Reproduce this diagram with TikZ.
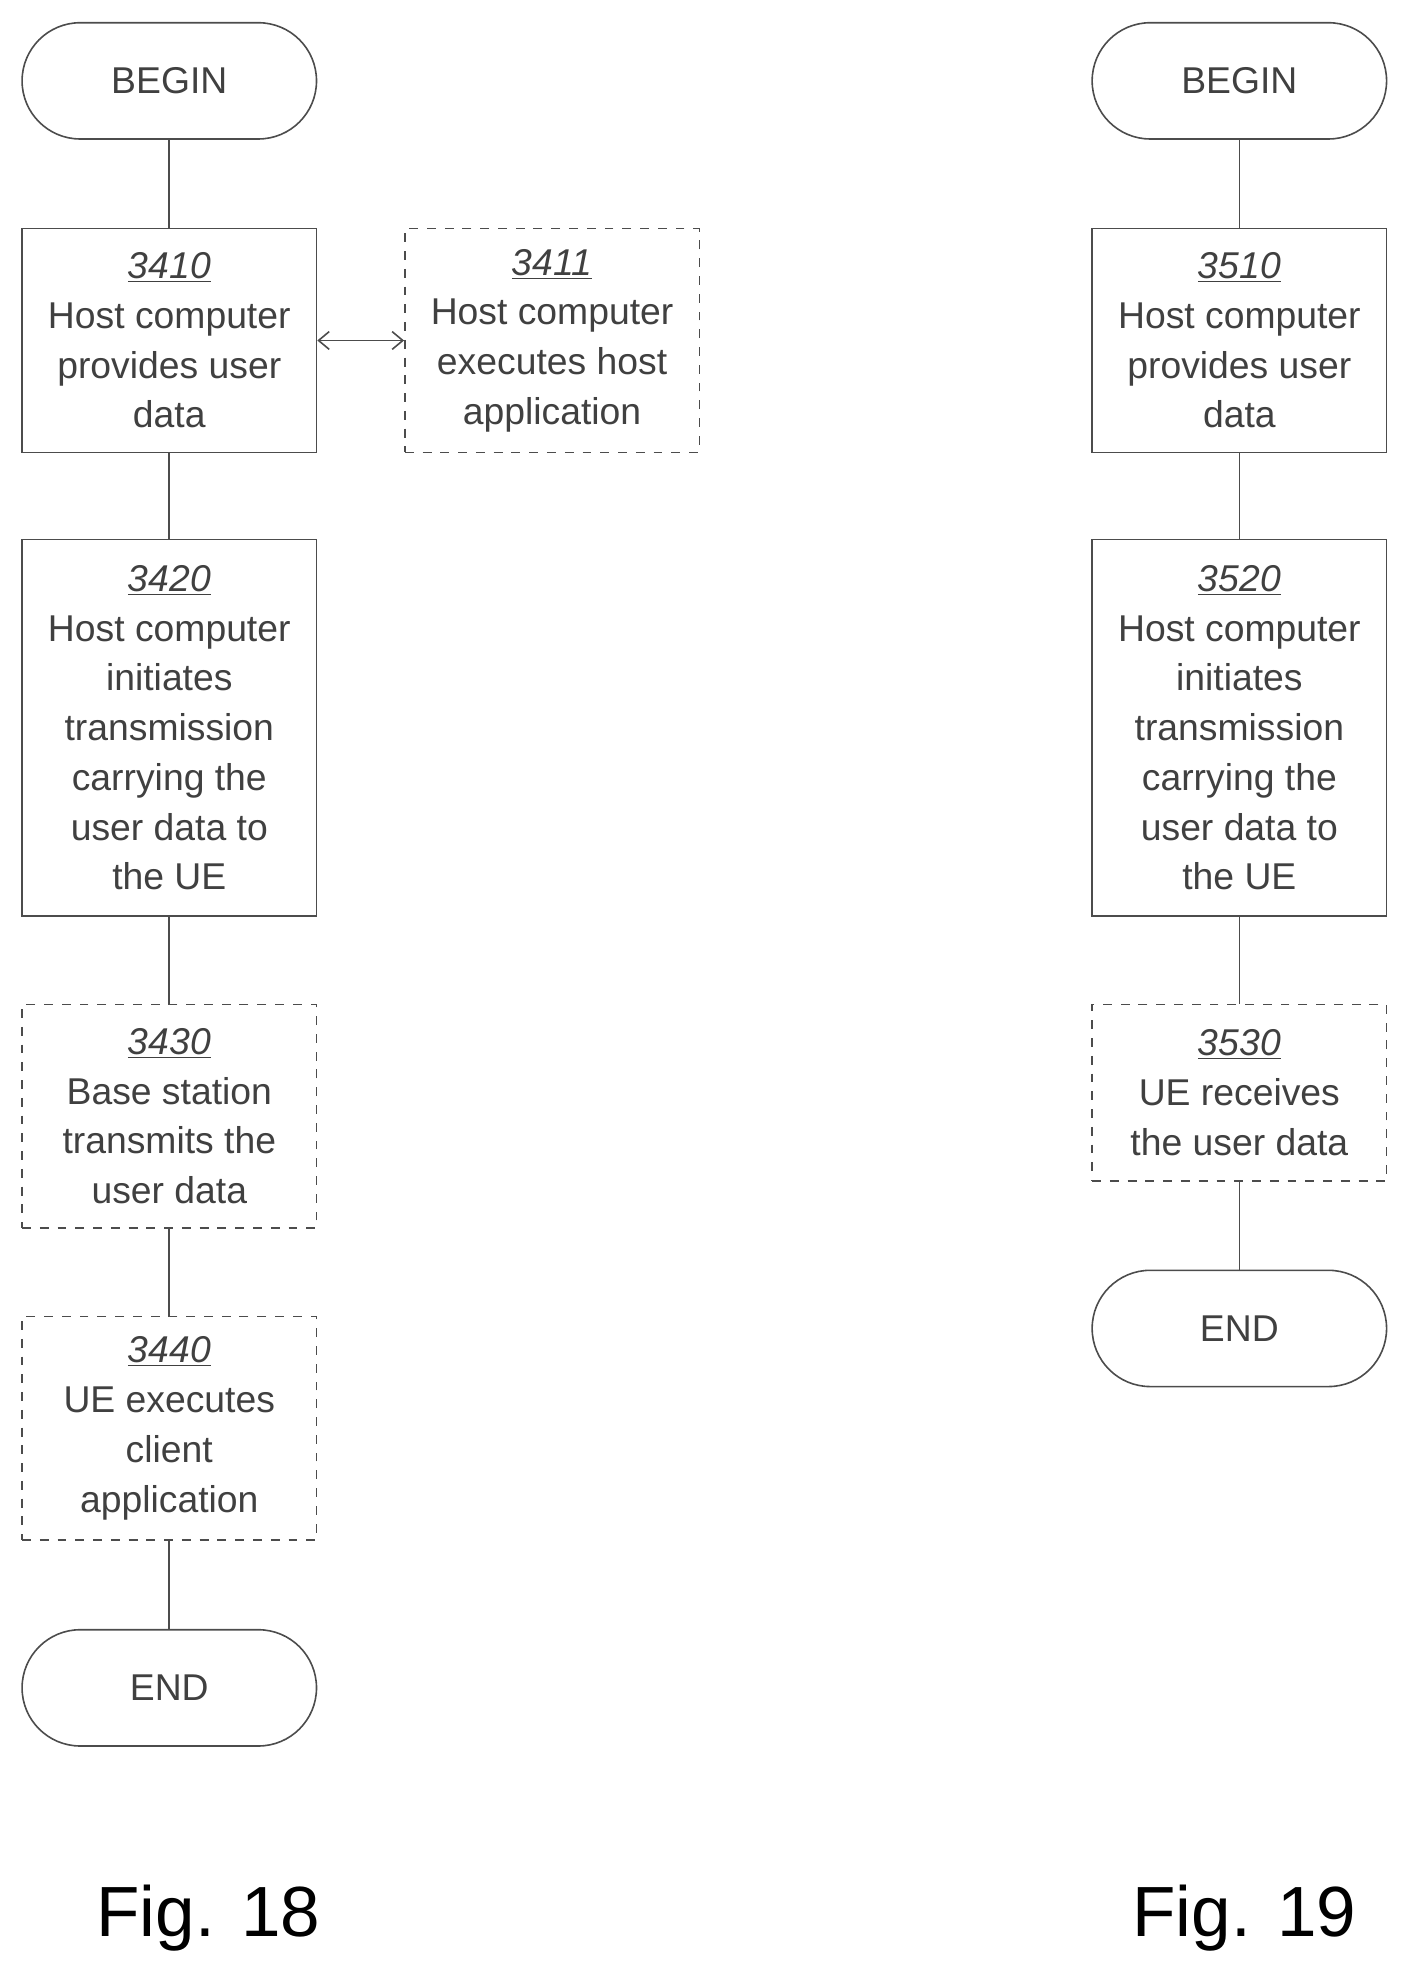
\documentclass[tikz,border=0pt]{standalone}
\usepackage{fontspec}
\setmainfont{Liberation Sans}
\usetikzlibrary{arrows.meta}
\begin{document}
\begin{tikzpicture}[x=0.025cm,y=-0.025cm,
  txt/.style={font=\fontsize{21}{28}\selectfont, text=black!75, align=center},
  box/.style={txt, draw=black!70, line width=0.9pt, minimum width=5.825cm, inner sep=0pt},
  dbox/.style={box, dash pattern=on 5pt off 5pt},
  term/.style={txt, draw=black!70, line width=0.9pt, minimum width=5.825cm, minimum height=2.3cm, rounded corners=1.15cm},
  ln/.style={draw=black!70, line width=0.9pt},
  fig/.style={font=\fontsize{40}{48}\selectfont, text=black}]
\useasboundingbox (0,0) rectangle (1117,1572);
\newcommand{\num}[1]{\underline{\textit{#1}}}
% Fig 18
\node[term] (b1) at (134,64) {BEGIN};
\node[box, minimum height=4.425cm] (n3410) at (134,269.5) {\num{3410}\\Host computer\\provides user\\data};
\node[dbox, minimum height=4.425cm] (n3411) at (437,269.5) {\num{3411}\\Host computer\\executes host\\application};
\node[box, minimum height=7.45cm] (n3420) at (134,576) {\num{3420}\\Host computer\\initiates\\transmission\\carrying the\\user data to\\the UE};
\node[dbox, minimum height=4.425cm] (n3430) at (134,883.5) {\num{3430}\\Base station\\transmits the\\user data};
\node[dbox, minimum height=4.425cm] (n3440) at (134,1130.5) {\num{3440}\\UE executes\\client\\application};
\node[term] (e1) at (134,1336) {END};
\draw[ln] (b1) -- (n3410);
\draw[ln] (n3410) -- (n3420);
\draw[ln] (n3420) -- (n3430);
\draw[ln] (n3430) -- (n3440);
\draw[ln] (n3440) -- (e1);
\draw[ln, {Straight Barb[length=6pt,width=10pt]}-{Straight Barb[length=6pt,width=10pt]}] (n3410.east) -- (n3411.west);
\node[fig] (f18) at (165,1518) {Fig. 18};
% Fig 19
\node[term] (b2) at (981,64) {BEGIN};
\node[box, minimum height=4.425cm] (n3510) at (981,269.5) {\num{3510}\\Host computer\\provides user\\data};
\node[box, minimum height=7.45cm] (n3520) at (981,576) {\num{3520}\\Host computer\\initiates\\transmission\\carrying the\\user data to\\the UE};
\node[dbox, minimum height=3.5cm] (n3530) at (981,865) {\num{3530}\\UE receives\\the user data};
\node[term] (e2) at (981,1051.5) {END};
\draw[ln] (b2) -- (n3510);
\draw[ln] (n3510) -- (n3520);
\draw[ln] (n3520) -- (n3530);
\draw[ln] (n3530) -- (e2);
\node[fig] (f19) at (985,1518) {Fig. 19};
\end{tikzpicture}
\end{document}
